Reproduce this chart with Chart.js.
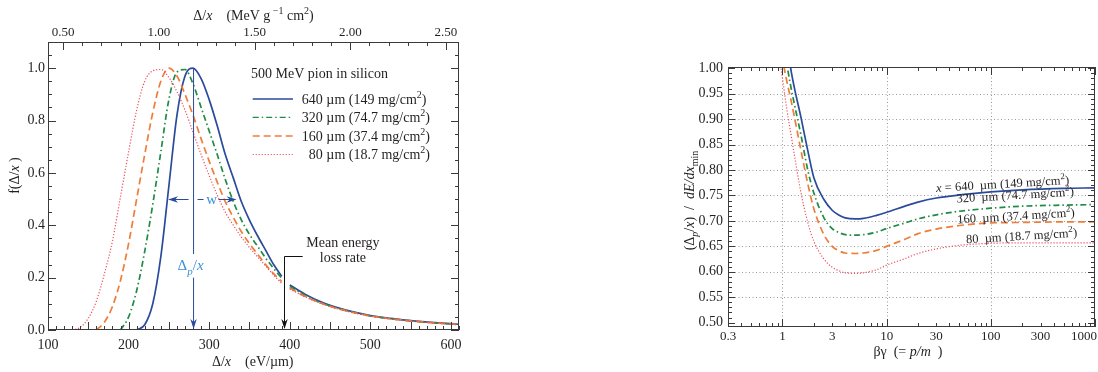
<!DOCTYPE html>
<html>
<head>
<meta charset="utf-8">
<title>Straggling in silicon</title>
<script src="https://cdn.jsdelivr.net/npm/chart.js@4/dist/chart.umd.min.js"></script>
<style>
  body { margin: 0; background: #fff; }
  #wrap { position: relative; width: 1098px; height: 372px; overflow: hidden; }
  #landau { position: absolute; left: 0; top: 0; }
  #ratio { position: absolute; left: 600px; top: 0; }
</style>
</head>
<body>
<div id="wrap">
  <canvas id="landau" width="480" height="372"></canvas>
  <canvas id="ratio" width="498" height="372"></canvas>
</div>
<script>
const serif = '"Liberation Serif", "Times New Roman", serif';
const ink = '#231f20';

// ---- left panel: straggling functions, 500 MeV pion in silicon ----
// Δ/x in eV/µm; the null entry breaks the curves where the mean-loss arrow sits
const deltaX = [130, 140, 150, 160, 170, 180, 190, 200, 210, 220, 230, 240, 250, 260, 270, 280, 290, 300, 310, 320,
  330, 340, 350, 360, 370, 380, 390, 394, 400, 420, 440, 460, 480, 500, 520, 540, 560, 580, 600, 610];
const f640 = [null, null, null, null, null, null, null, null, 0, 0.02, 0.10, 0.28, 0.55, 0.82, 0.97, 1.0, 0.96, 0.88, 0.78, 0.67,
  0.58, 0.49, 0.42, 0.36, 0.305, 0.25, 0.205, null, 0.172, 0.135, 0.106, 0.085, 0.068, 0.055, 0.046, 0.039, 0.033, 0.028, 0.024, 0.022];
const f320 = [null, null, null, null, null, null, 0, 0.05, 0.15, 0.30, 0.48, 0.68, 0.88, 0.985, 0.995, 0.94, 0.85, 0.76, 0.67, 0.575,
  0.49, 0.42, 0.365, 0.32, 0.275, 0.235, 0.198, null, 0.166, 0.131, 0.103, 0.083, 0.067, 0.054, 0.045, 0.038, 0.032, 0.027, 0.023, 0.021];
const f160 = [null, null, null, 0, 0.03, 0.09, 0.19, 0.33, 0.50, 0.67, 0.83, 0.95, 1.0, 0.97, 0.90, 0.82, 0.73, 0.645, 0.565, 0.49,
  0.43, 0.375, 0.33, 0.29, 0.25, 0.215, 0.185, null, 0.160, 0.127, 0.101, 0.081, 0.066, 0.054, 0.045, 0.038, 0.032, 0.027, 0.023, 0.021];
const f80 = [0, 0.01, 0.045, 0.11, 0.215, 0.34, 0.51, 0.68, 0.84, 0.95, 0.99, 0.995, 0.965, 0.91, 0.84, 0.755, 0.67, 0.59, 0.515, 0.45,
  0.40, 0.355, 0.315, 0.28, 0.245, 0.21, 0.178, null, 0.157, 0.125, 0.100, 0.080, 0.065, 0.053, 0.044, 0.037, 0.032, 0.027, 0.023, 0.021];

const thickness = ['640', '320', '160', '80'];
const areal = ['149', '74.7', '37.4', '18.7'];
const mostProbable = 280;      // Δp/x of the 640 µm curve
const halfMax = [249, 334];    // full width at half maximum, 640 µm
const meanLoss = 393;          // mean energy loss rate, eV/µm
const mevPerEvUm = 0.00421;    // top axis calibration, MeV g^-1 cm^2 per eV/µm

const eVLabels = [100, 200, 300, 400, 500, 600];
const mevLabels = [0.5, 1.0, 1.5, 2.0, 2.5];
const fLabels = [0, 0.2, 0.4, 0.6, 0.8, 1.0];

// ---- right panel: most probable loss over dE/dx min vs βγ ----
const betaGamma = [0.9, 1.0, 1.1, 1.2, 1.3, 1.5, 1.75, 2, 2.5, 3, 3.5, 4, 5, 6, 8, 10, 15, 20, 30, 50, 100, 200, 500, 1000];
const r640 = [1.25, 1.14, 1.06, 1.0, 0.962, 0.905, 0.838, 0.785, 0.742, 0.721, 0.711, 0.706, 0.704, 0.705, 0.711, 0.717,
  0.729, 0.737, 0.745, 0.751, 0.757, 0.761, 0.764, 0.765];
const r320 = [1.18, 1.08, 1.01, 0.965, 0.93, 0.87, 0.80, 0.755, 0.706, 0.685, 0.677, 0.673, 0.672, 0.673, 0.678, 0.685,
  0.696, 0.704, 0.712, 0.719, 0.725, 0.729, 0.731, 0.732];
const r160 = [1.09, 1.02, 0.975, 0.94, 0.905, 0.84, 0.773, 0.724, 0.673, 0.650, 0.641, 0.637, 0.636, 0.637, 0.642, 0.650,
  0.664, 0.675, 0.684, 0.691, 0.696, 0.697, 0.698, 0.698];
const r80 = [1.04, 0.98, 0.92, 0.873, 0.83, 0.757, 0.697, 0.66, 0.625, 0.609, 0.602, 0.598, 0.597, 0.598, 0.604, 0.613,
  0.626, 0.636, 0.645, 0.652, 0.656, 0.657, 0.657, 0.657];

const bgLabels = [0.3, 1, 3, 10, 30, 100, 300, 1000];
const ratioLabels = [0.50, 0.55, 0.60, 0.65, 0.70, 0.75, 0.80, 0.85, 0.90, 0.95, 1.00];
// where each curve tag starts: βγ and ratio of its baseline
const tagBg = [30, 47, 48, 58];
const tagY = [0.757, 0.736, 0.695, 0.656];

// line looks, same order as thickness
const looks = [
  { color: '#2a4b9b', dash: [], width: 1.7 },
  { color: '#1f8b45', dash: [6, 3, 1.5, 3], width: 1.7 },
  { color: '#ef7d3a', dash: [7, 4], width: 1.7 },
  { color: '#f04d5a', dash: [1.2, 1.8], width: 1.2 }
];
const lightBlue = '#3d8fd8';

function lineSet(xs, values, look) {
  return {
    data: xs.map((x, i) => ({ x, y: values[i] })),
    borderColor: look.color,
    borderWidth: look.width,
    borderDash: look.dash,
    pointRadius: 0,
    fill: false,
    spanGaps: false,
    cubicInterpolationMode: 'monotone',
    xAxisID: 'x',
    yAxisID: 'y'
  };
}

// text built from pieces: plain, italic, sub, isub (italic subscript), sup
function drawRich(ctx, parts, x, y, size, align) {
  const fontFor = st => {
    const small = st === 'sub' || st === 'isub' || st === 'sup';
    const it = st === 'i' || st === 'isub';
    return (it ? 'italic ' : '') + (small ? Math.round(size * 0.72) : size) + 'px ' + serif;
  };
  let w = 0;
  parts.forEach(([t, st]) => { ctx.font = fontFor(st); w += ctx.measureText(t).width; });
  let cx = align === 'center' ? x - w / 2 : align === 'right' ? x - w : x;
  ctx.textAlign = 'left';
  ctx.textBaseline = 'alphabetic';
  parts.forEach(([t, st]) => {
    ctx.font = fontFor(st);
    const dy = (st === 'sub' || st === 'isub') ? size * 0.3 : st === 'sup' ? -size * 0.42 : 0;
    ctx.fillText(t, cx, y + dy);
    cx += ctx.measureText(t).width;
  });
  return w;
}

function drawTicks(ctx, a, scale, values, len, side) {
  ctx.beginPath();
  values.forEach(v => {
    const p = Math.round(scale.getPixelForValue(v)) + 0.5;
    if (side === 'bottom') { ctx.moveTo(p, a.bottom); ctx.lineTo(p, a.bottom - len); }
    else if (side === 'top') { ctx.moveTo(p, a.top); ctx.lineTo(p, a.top + len); }
    else if (side === 'left') { ctx.moveTo(a.left, p); ctx.lineTo(a.left + len, p); }
    else { ctx.moveTo(a.right, p); ctx.lineTo(a.right - len, p); }
  });
  ctx.stroke();
}

function arrowHead(ctx, x, y, dir, len, half) {
  ctx.beginPath();
  ctx.moveTo(x, y);
  if (dir === 'down') { ctx.lineTo(x - half, y - len); ctx.lineTo(x, y - len * 0.7); ctx.lineTo(x + half, y - len); }
  else if (dir === 'left') { ctx.lineTo(x + len, y - half); ctx.lineTo(x + len * 0.7, y); ctx.lineTo(x + len, y + half); }
  else { ctx.lineTo(x - len, y - half); ctx.lineTo(x - len * 0.7, y); ctx.lineTo(x - len, y + half); }
  ctx.closePath();
  ctx.fill();
}

function range(from, to, step) {
  const out = [];
  for (let v = from; v <= to + step / 1000; v += step) out.push(+v.toFixed(4));
  return out;
}

const frameLine = (ctx, a) => {
  ctx.strokeStyle = '#3a3a3a';
  ctx.lineWidth = 1;
  ctx.strokeRect(Math.round(a.left) + 0.5, Math.round(a.top) + 0.5,
    Math.round(a.right - a.left) - 1, Math.round(a.bottom - a.top) - 1);
};

const landauDecor = {
  id: 'landauDecor',
  afterDatasetsDraw(chart) {
    const { ctx, chartArea: a } = chart;
    const sx = chart.scales.x, sm = chart.scales.xMeV, sy = chart.scales.y;
    ctx.save();
    frameLine(ctx, a);

    const eVAll = range(100, 610, 10);
    drawTicks(ctx, a, sx, eVAll.filter(v => v % 50 === 0), 8, 'bottom');
    drawTicks(ctx, a, sx, eVAll.filter(v => v % 50 !== 0), 4, 'bottom');
    const mevAll = range(0.5, 2.5, 0.1).filter(v => v <= sm.max);
    drawTicks(ctx, a, sm, mevAll.filter(v => Math.abs(v * 2 - Math.round(v * 2)) < 1e-6), 8, 'top');
    drawTicks(ctx, a, sm, mevAll.filter(v => Math.abs(v * 2 - Math.round(v * 2)) > 1e-6), 4, 'top');
    const fAll = range(0, 1.05, 0.05);
    const fMajor = fAll.filter(v => Math.abs(v * 5 - Math.round(v * 5)) < 1e-6);
    const fMinor = fAll.filter(v => Math.abs(v * 5 - Math.round(v * 5)) > 1e-6);
    drawTicks(ctx, a, sy, fMajor, 8, 'left');
    drawTicks(ctx, a, sy, fMinor, 4, 'left');
    drawTicks(ctx, a, sy, fMajor, 8, 'right');
    drawTicks(ctx, a, sy, fMinor, 4, 'right');

    // axis titles
    ctx.fillStyle = ink;
    drawRich(ctx, [['Δ/'], ['x', 'i'], ['    (eV/µm)']], sx.getPixelForValue(354), a.bottom + 36, 14, 'center');
    drawRich(ctx, [['Δ/'], ['x', 'i'], ['    (MeV g'], [' −1', 'sup'], [' cm'], ['2', 'sup'], [')']],
      sx.getPixelForValue(355), a.top - 22, 14, 'center');
    ctx.save();
    ctx.translate(19, sy.getPixelForValue(0.59));
    ctx.rotate(-Math.PI / 2);
    drawRich(ctx, [['f(Δ/'], ['x', 'i'], [' )']], 0, 0, 14, 'center');
    ctx.restore();

    // legend block
    drawRich(ctx, [['500 MeV pion in silicon']], sx.getPixelForValue(352), sy.getPixelForValue(0.962), 14, 'left');
    const rowY = [0.864, 0.794, 0.7225, 0.652];
    const numEnd = sx.getPixelForValue(415);
    ctx.font = '14px ' + serif;
    const numW = ctx.measureText('640').width;
    thickness.forEach((t, i) => {
      const by = sy.getPixelForValue(rowY[i]);
      ctx.save();
      ctx.strokeStyle = looks[i].color;
      ctx.lineWidth = looks[i].width * 0.8;
      ctx.setLineDash(looks[i].dash);
      ctx.beginPath();
      ctx.moveTo(sx.getPixelForValue(354), by - 4.8);
      ctx.lineTo(sx.getPixelForValue(404), by - 4.8);
      ctx.stroke();
      ctx.restore();
      ctx.fillStyle = ink;
      drawRich(ctx, [[t]], numEnd + numW, by, 14, 'right');
      drawRich(ctx, [[' µm (' + areal[i] + ' mg/cm'], ['2', 'sup'], [')']], numEnd + numW, by, 14, 'left');
    });

    // most probable value marker
    const xp = sx.getPixelForValue(mostProbable) + 0.5;
    ctx.strokeStyle = looks[0].color;
    ctx.fillStyle = looks[0].color;
    ctx.lineWidth = 1;
    ctx.beginPath();
    ctx.moveTo(xp, sy.getPixelForValue(1.0));
    ctx.lineTo(xp, sy.getPixelForValue(0.29));
    ctx.moveTo(xp, sy.getPixelForValue(0.2));
    ctx.lineTo(xp, a.bottom - 2);
    ctx.stroke();
    arrowHead(ctx, xp, a.bottom - 1, 'down', 10, 3.2);
    ctx.fillStyle = lightBlue;
    drawRich(ctx, [['Δ'], ['p', 'isub'], ['/'], ['x', 'i']], xp - 3, sy.getPixelForValue(0.228), 15, 'center');

    // width arrow at half maximum
    const yh = Math.round(sy.getPixelForValue(0.5)) + 0.5;
    const xl = sx.getPixelForValue(halfMax[0]), xr = sx.getPixelForValue(halfMax[1]);
    const xw = xp + 18;
    ctx.strokeStyle = looks[0].color;
    ctx.fillStyle = looks[0].color;
    ctx.beginPath();
    ctx.moveTo(xl + 4, yh); ctx.lineTo(xp - 5, yh);
    ctx.moveTo(xp + 4, yh); ctx.lineTo(xw - 8, yh);
    ctx.moveTo(xw + 7, yh); ctx.lineTo(xr - 4, yh);
    ctx.stroke();
    arrowHead(ctx, xl, yh, 'left', 10, 3.2);
    arrowHead(ctx, xr, yh, 'right', 10, 3.2);
    ctx.fillStyle = lightBlue;
    drawRich(ctx, [['w']], xw, yh + 4, 15, 'center');

    // mean energy loss rate
    const xm = Math.round(sx.getPixelForValue(meanLoss)) + 0.5;
    const ym = Math.round(sy.getPixelForValue(0.283)) + 0.5;
    ctx.strokeStyle = '#111';
    ctx.fillStyle = '#111';
    ctx.beginPath();
    ctx.moveTo(sx.getPixelForValue(416), ym);
    ctx.lineTo(xm, ym);
    ctx.lineTo(xm, a.bottom - 2);
    ctx.stroke();
    arrowHead(ctx, xm, a.bottom - 1, 'down', 10, 3.2);
    ctx.fillStyle = ink;
    drawRich(ctx, [['Mean energy']], sx.getPixelForValue(466), sy.getPixelForValue(0.317), 14, 'center');
    drawRich(ctx, [['loss rate']], sx.getPixelForValue(466), sy.getPixelForValue(0.26), 14, 'center');
    ctx.restore();
  }
};

const tickFont = { family: serif, size: 14 };
const topFont = { family: serif, size: 13 };
const hideGrid = { display: false, drawTicks: false };

new Chart(document.getElementById('landau'), {
  type: 'line',
  data: {
    datasets: [
      lineSet(deltaX, f80, looks[3]),
      lineSet(deltaX, f160, looks[2]),
      lineSet(deltaX, f320, looks[1]),
      lineSet(deltaX, f640, looks[0])
    ]
  },
  options: {
    responsive: false,
    animation: false,
    layout: { padding: { right: 21 } },
    plugins: { legend: { display: false }, tooltip: { enabled: false } },
    scales: {
      x: {
        type: 'linear', position: 'bottom', min: 100, max: 610,
        afterBuildTicks: s => { s.ticks = eVLabels.map(v => ({ value: v })); },
        afterFit: s => { s.height = 42; },
        grid: hideGrid, border: { display: false },
        ticks: { font: tickFont, color: ink, padding: 7, maxRotation: 0, autoSkip: false, callback: v => String(v) }
      },
      xMeV: {
        axis: 'x', type: 'linear', position: 'top', min: 100 * mevPerEvUm, max: 610 * mevPerEvUm,
        afterBuildTicks: s => { s.ticks = mevLabels.map(v => ({ value: v })); },
        afterFit: s => { s.height = 42; },
        grid: hideGrid, border: { display: false },
        ticks: { font: topFont, color: ink, padding: 2, maxRotation: 0, autoSkip: false, callback: v => v.toFixed(2) }
      },
      y: {
        min: 0, max: 1.1,
        afterBuildTicks: s => { s.ticks = fLabels.map(v => ({ value: v })); },
        afterFit: s => { s.width = 48; },
        grid: hideGrid, border: { display: false },
        ticks: { font: tickFont, color: ink, padding: 3, autoSkip: false, callback: v => v.toFixed(1) }
      }
    }
  },
  plugins: [landauDecor]
});

const ratioDecor = {
  id: 'ratioDecor',
  beforeDatasetsDraw(chart) {
    const { ctx, chartArea: a } = chart;
    const sx = chart.scales.x, sy = chart.scales.y;
    ctx.save();
    ctx.strokeStyle = '#9a9a9a';
    ctx.lineWidth = 1;
    ctx.setLineDash([1, 2.5]);
    ctx.beginPath();
    ratioLabels.slice(1, -1).forEach(v => {
      const p = Math.round(sy.getPixelForValue(v)) + 0.5;
      ctx.moveTo(a.left, p); ctx.lineTo(a.right, p);
    });
    [1, 10, 100].forEach(v => {
      const p = Math.round(sx.getPixelForValue(v)) + 0.5;
      ctx.moveTo(p, a.top); ctx.lineTo(p, a.bottom);
    });
    ctx.stroke();
    ctx.restore();
  },
  afterDatasetsDraw(chart) {
    const { ctx, chartArea: a } = chart;
    const sx = chart.scales.x, sy = chart.scales.y;
    ctx.save();
    frameLine(ctx, a);

    const decades = [1, 10, 100, 1000];
    const minorBg = [0.4, 0.5, 0.6, 0.7, 0.8, 0.9];
    [1, 10, 100].forEach(d => [2, 3, 4, 5, 6, 7, 8, 9].forEach(m => minorBg.push(d * m)));
    drawTicks(ctx, a, sx, decades, 8, 'bottom');
    drawTicks(ctx, a, sx, decades, 8, 'top');
    drawTicks(ctx, a, sx, minorBg, 4, 'bottom');
    drawTicks(ctx, a, sx, minorBg, 4, 'top');
    const rAll = range(0.50, 1.0, 0.01);
    const rMajor = rAll.filter(v => Math.abs(v * 20 - Math.round(v * 20)) < 1e-6);
    const rMinor = rAll.filter(v => Math.abs(v * 20 - Math.round(v * 20)) > 1e-6);
    ['left', 'right'].forEach(side => {
      drawTicks(ctx, a, sy, rMajor, 7, side);
      drawTicks(ctx, a, sy, rMinor, 4, side);
    });

    // βγ tick labels
    ctx.fillStyle = ink;
    ctx.font = '13px ' + serif;
    ctx.textAlign = 'center';
    ctx.textBaseline = 'alphabetic';
    bgLabels.forEach(v => {
      const t = String(v);
      let x = sx.getPixelForValue(v);
      const w = ctx.measureText(t).width;
      if (x + w / 2 > chart.width - 1) x = chart.width - 1 - w / 2;
      ctx.fillText(t, x, a.bottom + 13);
    });

    // axis titles
    drawRich(ctx, [['βγ  (= '], ['p/m', 'i'], ['  )']], sx.getPixelForValue(16), a.bottom + 29, 14, 'center');
    ctx.save();
    ctx.translate(94, sy.getPixelForValue(0.74));
    ctx.rotate(-Math.PI / 2);
    drawRich(ctx, [['(Δ'], ['p', 'isub'], ['/'], ['x', 'i'], [')  /  '], ['dE/dx', 'i'], ['min', 'sub']], 0, 0, 14, 'center');
    ctx.restore();

    // curve tags
    thickness.forEach((t, i) => {
      ctx.save();
      ctx.translate(sx.getPixelForValue(tagBg[i]), sy.getPixelForValue(tagY[i]));
      ctx.rotate(-0.06);
      const head = i === 0 ? [['x', 'i'], [' = ' + t + '  µm (']] : [[t + '  µm (']];
      drawRich(ctx, head.concat([[areal[i] + ' mg/cm'], ['2', 'sup'], [')']]), 0, 0, 12.5, 'left');
      ctx.restore();
    });
    ctx.restore();
  }
};

new Chart(document.getElementById('ratio'), {
  type: 'line',
  data: {
    datasets: [
      lineSet(betaGamma, r80, looks[3]),
      lineSet(betaGamma, r160, looks[2]),
      lineSet(betaGamma, r320, looks[1]),
      lineSet(betaGamma, r640, looks[0])
    ]
  },
  options: {
    responsive: false,
    animation: false,
    layout: { padding: { top: 67, right: 3 } },
    plugins: { legend: { display: false }, tooltip: { enabled: false } },
    scales: {
      x: {
        type: 'logarithmic', min: 0.3, max: 1000,
        afterFit: s => { s.height = 45; },
        grid: hideGrid, border: { display: false },
        ticks: { display: false }
      },
      y: {
        min: 0.4915, max: 1.0025,
        afterBuildTicks: s => { s.ticks = ratioLabels.map(v => ({ value: v })); },
        afterFit: s => { s.width = 128; },
        grid: hideGrid, border: { display: false },
        ticks: { font: tickFont, color: ink, padding: 5, autoSkip: false, callback: v => v.toFixed(2) }
      }
    }
  },
  plugins: [ratioDecor]
});
</script>
</body>
</html>
